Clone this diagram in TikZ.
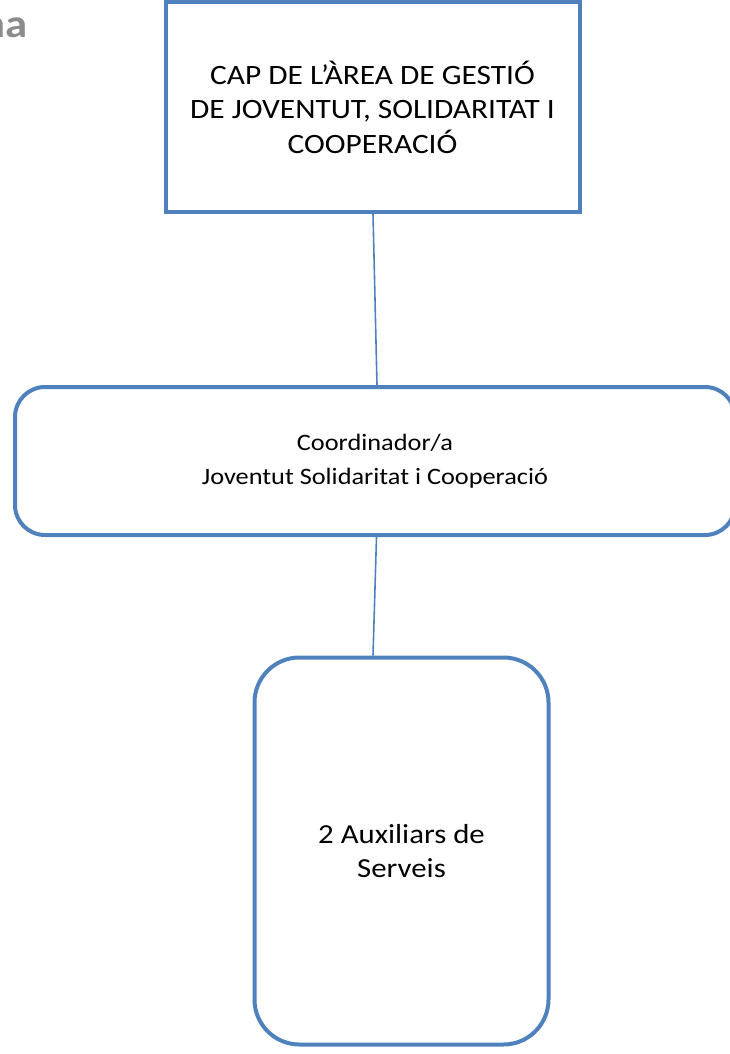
\documentclass[tikz,border=0pt]{standalone}
\usepackage{fontspec}
\setmainfont{Carlito}[FakeStretch=1.12]
\usepackage{xcolor}
\usepackage{tikz}
\definecolor{orgblue}{HTML}{4F81BD}
\definecolor{titlegray}{HTML}{8C8C8C}

\begin{document}
\begin{tikzpicture}[x=1pt, y=-1pt, post/.style = {draw=orgblue, line width=4pt, align=center, inner sep=0pt}, link/.style = {draw=orgblue, line width=1.6pt}]
		\useasboundingbox (0,0) rectangle (729,1054);
		\node[anchor=base east, inner sep=0pt, text=titlegray, font=\fontsize{40}{48}\selectfont\bfseries] (title) at (28,38) {na};
		
		\node[post, minimum width=414pt, minimum height=209pt, font=\fontsize{28}{34.5}\selectfont] (head) at (372.5,107) {CAP DE L’ÀREA DE GESTIÓ\\DE JOVENTUT, SOLIDARITAT I\\COOPERACIÓ};
		\node[post, rounded corners=30pt, minimum width=720pt, minimum height=148pt, font=\fontsize{23.5}{34}\selectfont] (coord) at (375,461) {Coordinador/a\\Joventut Solidaritat i Cooperació};
		\node[post, rounded corners=45pt, minimum width=294pt, minimum height=387pt, font=\fontsize{27.5}{34}\selectfont] (aux) at (401.5,851) {2 Auxiliars de\\Serveis};
		
		\draw[link] ([xshift=0.5pt]head.south) -- ([xshift=2pt]coord.north);
		\draw[link] ([xshift=1.5pt]coord.south) -- ([xshift=-28.5pt]aux.north);
	\end{tikzpicture}
\end{document}
